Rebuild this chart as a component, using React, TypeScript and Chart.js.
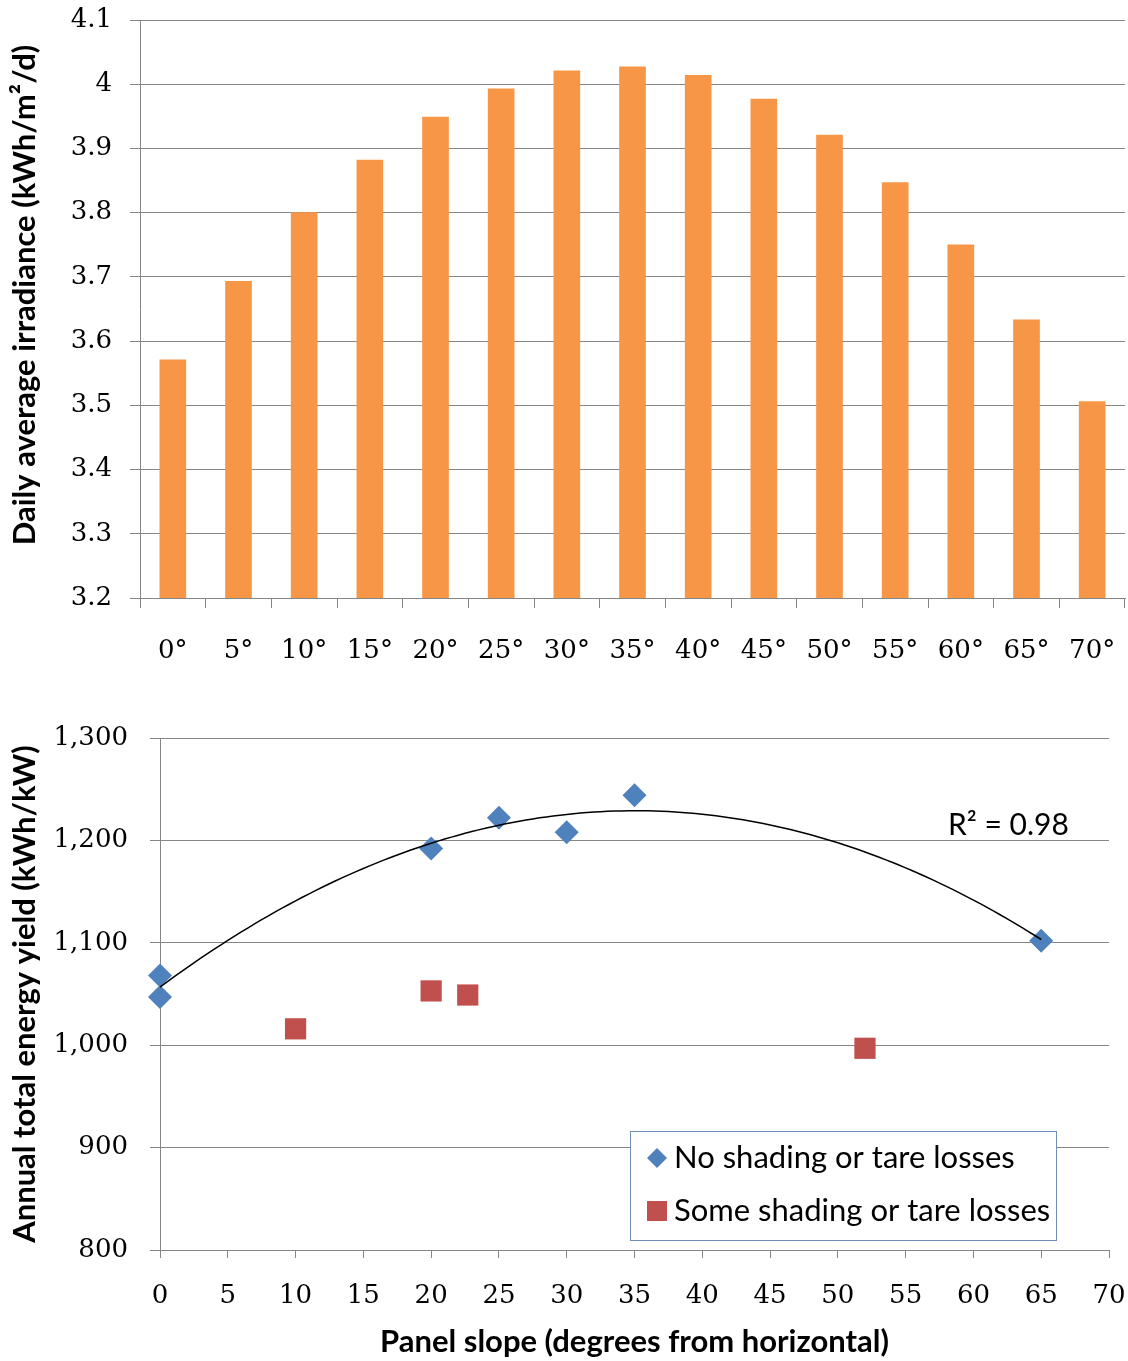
import { useEffect, useRef } from "react";
import { Chart, registerables } from "chart.js";

Chart.register(...registerables);

// ---------- Top chart data ----------
const slopeCategories = ["0°", "5°", "10°", "15°", "20°", "25°", "30°", "35°", "40°", "45°", "50°", "55°", "60°", "65°", "70°"];
const irradianceValues = [3.571, 3.693, 3.8, 3.882, 3.949, 3.993, 4.021, 4.027, 4.014, 3.977, 3.921, 3.847, 3.75, 3.633, 3.506];
const irradianceMin = 3.2;
const irradianceMax = 4.1;
const irradianceStep = 0.1;
const irradianceTitle = "Daily average irradiance (kWh/m²/d)";

// ---------- Bottom chart data ----------
const noShadeSlope = [0, 0, 20, 25, 30, 35, 65];
const noShadeYield = [1068, 1047, 1192, 1222, 1208, 1244, 1102];
const shadeSlope = [10, 20, 22.7, 52];
const shadeYield = [1016, 1053, 1049, 997];
const yieldMin = 800;
const yieldMax = 1300;
const yieldStep = 100;
const slopeMin = 0;
const slopeMax = 70;
const slopeStep = 5;
const rSquaredLabel = "R² = 0.98";
const legendLabels = ["No shading or tare losses", "Some shading or tare losses"];

const BLUE = "#4F81BD";
const RED = "#C0504D";
const ORANGE = "#F79646";
const GRID = "#868686";
const SERIF = "'DejaVu Serif', serif";
const SANS = "Lato, 'Open Sans', sans-serif";

function quadFit(xs: number[], ys: number[]) {
  let n = xs.length, sx = 0, sx2 = 0, sx3 = 0, sx4 = 0, sy = 0, sxy = 0, sx2y = 0;
  for (let i = 0; i < n; i++) {
    const x = xs[i], y = ys[i];
    sx += x; sx2 += x * x; sx3 += x * x * x; sx4 += x * x * x * x;
    sy += y; sxy += x * y; sx2y += x * x * y;
  }
  const det3 = (m: number[][]) =>
    m[0][0] * (m[1][1] * m[2][2] - m[1][2] * m[2][1]) -
    m[0][1] * (m[1][0] * m[2][2] - m[1][2] * m[2][0]) +
    m[0][2] * (m[1][0] * m[2][1] - m[1][1] * m[2][0]);
  const A = [[n, sx, sx2], [sx, sx2, sx3], [sx2, sx3, sx4]];
  const B = [sy, sxy, sx2y];
  const D = det3(A);
  const coef = [0, 1, 2].map((k) => {
    const M = A.map((row, r) => row.map((v, c) => (c === k ? B[r] : v)));
    return det3(M) / D;
  });
  return (x: number) => coef[0] + coef[1] * x + coef[2] * x * x;
}

const noPad = (s: any) => {
  s.paddingTop = 0;
  s.paddingBottom = 0;
  s.paddingLeft = 0;
  s.paddingRight = 0;
};

export default function App() {
  const topRef = useRef<HTMLCanvasElement>(null);
  const botRef = useRef<HTMLCanvasElement>(null);

  useEffect(() => {
    const topTitle = {
      id: "topTitle",
      afterDraw(chart: any) {
        const { ctx, chartArea } = chart;
        ctx.save();
        ctx.translate(25, (chartArea.top + chartArea.bottom) / 2 - 14);
        ctx.rotate(-Math.PI / 2);
        ctx.font = `bold 31px ${SANS}`;
        ctx.fillStyle = "#000";
        ctx.textAlign = "center";
        ctx.textBaseline = "middle";
        ctx.fillText(irradianceTitle, 0, 0);
        ctx.restore();
      },
    };

    const top = new Chart(topRef.current!, {
      type: "bar",
      data: {
        labels: slopeCategories,
        datasets: [{ data: irradianceValues, backgroundColor: ORANGE, barThickness: 26 }],
      },
      options: {
        responsive: false,
        animation: false,
        devicePixelRatio: 1,
        layout: { padding: { top: 20, right: 3, left: 0, bottom: 0 } },
        plugins: { legend: { display: false }, tooltip: { enabled: false } },
        scales: {
          x: {
            grid: { display: true, drawOnChartArea: false, drawTicks: true, tickLength: 10, color: GRID, offset: true },
            border: { display: true, color: GRID },
            ticks: { font: { family: SERIF, size: 26 }, color: "#000", padding: 28, maxRotation: 0, autoSkip: false },
            afterFit: (s: any) => { s.height = 82; noPad(s); },
          },
          y: {
            min: irradianceMin,
            max: irradianceMax,
            ticks: {
              stepSize: irradianceStep,
              font: { family: SERIF, size: 26 },
              color: "#000",
              padding: 18,
              callback: (v: any) => String(Math.round(Number(v) * 10) / 10),
            },
            grid: { color: GRID, tickLength: 10 },
            border: { display: true, color: GRID },
            title: { display: false },
            afterFit: (s: any) => { s.width = 140; noPad(s); },
          },
        },
      },
      plugins: [topTitle],
    } as any);

    const fit = quadFit(noShadeSlope, noShadeYield);

    const overlay = {
      id: "overlay",
      afterDatasetsDraw(chart: any) {
        const { ctx, chartArea, scales } = chart;
        const xs = scales.x, ys = scales.y;
        // polynomial (order 2) trendline fitted to the "no shading" series
        const x0 = Math.min(...noShadeSlope), x1 = Math.max(...noShadeSlope);
        ctx.save();
        ctx.beginPath();
        for (let x = x0, i = 0; x <= x1 + 1e-9; x += 0.5, i++) {
          const px = xs.getPixelForValue(x), py = ys.getPixelForValue(fit(x));
          if (i === 0) ctx.moveTo(px, py); else ctx.lineTo(px, py);
        }
        ctx.strokeStyle = "#000";
        ctx.lineWidth = 1.5;
        ctx.stroke();
        // R² label
        ctx.fillStyle = "#000";
        ctx.font = `30px ${SANS}`;
        ctx.textBaseline = "middle";
        ctx.textAlign = "left";
        ctx.fillText(rSquaredLabel, chartArea.left + 788, chartArea.top + 87);
        // legend box
        const bx = chartArea.left + 470, by = chartArea.top + 393, bw = 426, bh = 109;
        ctx.fillStyle = "#fff";
        ctx.fillRect(bx, by, bw, bh);
        ctx.strokeStyle = "#6f8fb8";
        ctx.lineWidth = 1;
        ctx.strokeRect(bx + 0.5, by + 0.5, bw, bh);
        const cx = bx + 27;
        let cy = by + 27;
        ctx.fillStyle = BLUE;
        ctx.beginPath();
        ctx.moveTo(cx - 10, cy); ctx.lineTo(cx, cy - 10); ctx.lineTo(cx + 10, cy); ctx.lineTo(cx, cy + 10);
        ctx.closePath();
        ctx.fill();
        ctx.fillStyle = "#000";
        ctx.font = `31px ${SANS}`;
        ctx.fillText(legendLabels[0], bx + 44, cy);
        cy = by + 80;
        ctx.fillStyle = RED;
        ctx.fillRect(cx - 10, cy - 10, 20, 20);
        ctx.fillStyle = "#000";
        ctx.fillText(legendLabels[1], bx + 44, cy);
        ctx.restore();
      },
    };

    const bot = new Chart(botRef.current!, {
      type: "scatter",
      data: {
        datasets: [
          {
            label: legendLabels[0],
            data: noShadeSlope.map((x, i) => ({ x, y: noShadeYield[i] })),
            pointStyle: "rectRot",
            pointRadius: 12,
            backgroundColor: BLUE,
            borderColor: BLUE,
            borderWidth: 0,
            clip: false,
          },
          {
            label: legendLabels[1],
            data: shadeSlope.map((x, i) => ({ x, y: shadeYield[i] })),
            pointStyle: "rect",
            pointRadius: 15,
            backgroundColor: RED,
            borderColor: RED,
            borderWidth: 0,
            clip: false,
          },
        ],
      },
      options: {
        responsive: false,
        animation: false,
        devicePixelRatio: 1,
        layout: { padding: { top: 58, right: 19, left: 0, bottom: 0 } },
        plugins: { legend: { display: false }, tooltip: { enabled: false } },
        scales: {
          x: {
            type: "linear",
            min: slopeMin,
            max: slopeMax,
            ticks: { stepSize: slopeStep, font: { family: SERIF, size: 26 }, color: "#000", padding: 23, maxRotation: 0 },
            grid: { display: true, drawOnChartArea: false, drawTicks: true, tickLength: 8, color: GRID },
            border: { display: true, color: GRID },
            title: {
              display: true,
              text: "Panel slope (degrees from horizontal)",
              font: { family: SANS, weight: "bold", size: 31 },
              color: "#000",
              padding: { top: 0, bottom: 0 },
            },
            afterFit: (s: any) => { s.height = 111; noPad(s); },
          },
          y: {
            min: yieldMin,
            max: yieldMax,
            ticks: {
              stepSize: yieldStep,
              font: { family: SERIF, size: 26 },
              color: "#000",
              padding: 22,
              callback: (v: any) => Number(v).toLocaleString("en-US"),
            },
            grid: { color: GRID, tickLength: 10 },
            border: { display: true, color: GRID },
            title: {
              display: true,
              text: "Annual total energy yield (kWh/kW)",
              font: { family: SANS, weight: "bold", size: 31 },
              color: "#000",
              padding: { top: 6, bottom: 0 },
            },
            afterFit: (s: any) => { s.width = 160; noPad(s); },
          },
        },
      },
      plugins: [overlay],
    } as any);

    return () => {
      top.destroy();
      bot.destroy();
    };
  }, []);

  return (
    <div style={{ position: "absolute", left: 0, top: 0, width: 1128, height: 1361, background: "#fff" }}>
      <canvas ref={topRef} width={1128} height={680} style={{ display: "block" }} />
      <canvas ref={botRef} width={1128} height={681} style={{ display: "block" }} />
    </div>
  );
}
